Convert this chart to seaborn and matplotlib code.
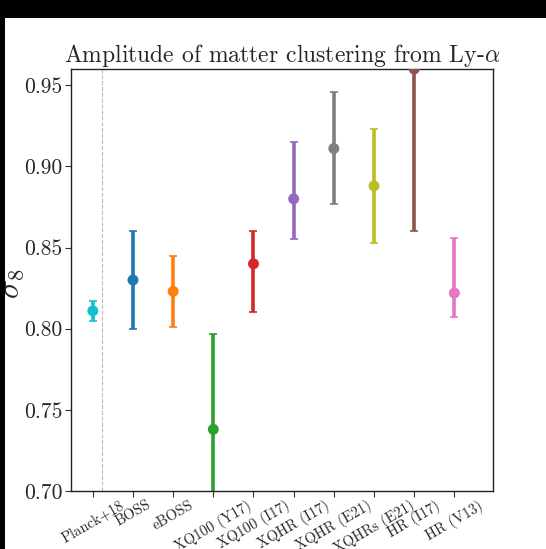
import matplotlib
matplotlib.use("Agg")
import matplotlib.pyplot as plt
import seaborn as sns
import pandas as pd
from matplotlib.patches import Rectangle

# Lyman-alpha forest constraints on sigma_8
labels = ["Planck+18", "BOSS", "eBOSS", "XQ100 (Y17)", "XQ100 (I17)",
          "XQHR (I17)", "XQHR (E21)", "XQHRs (E21)", "HR (I17)", "HR (V13)"]
sigma8 = [0.811, 0.830, 0.823, 0.738, 0.840, 0.880, 0.911, 0.888, 0.960, 0.822]
err_lo = [0.006, 0.030, 0.022, 0.059, 0.030, 0.025, 0.034, 0.035, 0.100, 0.015]
err_hi = [0.006, 0.030, 0.022, 0.059, 0.020, 0.035, 0.035, 0.035, 0.100, 0.034]
colors = ["tab:cyan", "tab:blue", "tab:orange", "tab:green", "tab:red",
          "tab:purple", "tab:gray", "tab:olive", "tab:brown", "tab:pink"]
yticks = [0.70, 0.75, 0.80, 0.85, 0.90, 0.95]

df = pd.DataFrame({"pos": range(len(labels)), "label": labels,
                   "sigma8": sigma8, "lo": err_lo, "hi": err_hi})

sns.set_style("ticks")
plt.rcParams["font.family"] = ["cmr10"]
plt.rcParams["mathtext.fontset"] = "cm"
plt.rcParams["axes.formatter.use_mathtext"] = True
plt.rcParams["axes.unicode_minus"] = False

fig = plt.figure(figsize=(5.46, 5.49), dpi=100)
fig.patch.set_facecolor("white")
ax = fig.add_axes([0.1295, 0.1056, 0.774, 0.7687])

for i, row in df.iterrows():
    ax.errorbar(row["pos"], row["sigma8"], yerr=[[row["lo"]], [row["hi"]]],
                fmt="none", ecolor=colors[i], elinewidth=2.6, capsize=3,
                capthick=1.2, zorder=2)

sns.scatterplot(data=df, x="pos", y="sigma8", hue="label", palette=colors,
                s=62, edgecolor="none", legend=False, ax=ax, zorder=3)

ax.axvline(0.23, color="#bbbbbb", ls="--", lw=0.8, zorder=1)

ax.set_xlim(-0.55, 9.97)
ax.set_ylim(0.70, 0.96)
ax.set_xticks(range(len(labels)))
ax.set_xticklabels(labels, rotation=30, ha="center", fontsize=10.5)
ax.set_yticks(yticks)
ax.set_yticklabels([f"{v:.2f}" for v in yticks], fontsize=15.5)
ax.set_xlabel("")
ax.set_ylabel(r"$\sigma_8$", fontsize=23)
ax.yaxis.set_label_coords(-0.105, 0.49)
ax.set_title(r"Amplitude of matter clustering from Ly-$\alpha$", fontsize=17, pad=2)

for sp in ax.spines.values():
    sp.set_color("#222222")
    sp.set_linewidth(1.0)
ax.tick_params(axis="both", direction="out", length=4, width=0.8, color="#333333")
ax.tick_params(axis="x", pad=1)
ax.tick_params(axis="y", pad=2)

# dark frame strips along the top and left edges
fig.patches.append(Rectangle((0, 1 - 18 / 549), 1, 18 / 549, transform=fig.transFigure,
                             facecolor="black", edgecolor="none", zorder=10))
fig.patches.append(Rectangle((0, 0), 4.5 / 546, 1, transform=fig.transFigure,
                             facecolor="black", edgecolor="none", zorder=10))

fig.savefig("out.png", dpi=100, facecolor="white")
